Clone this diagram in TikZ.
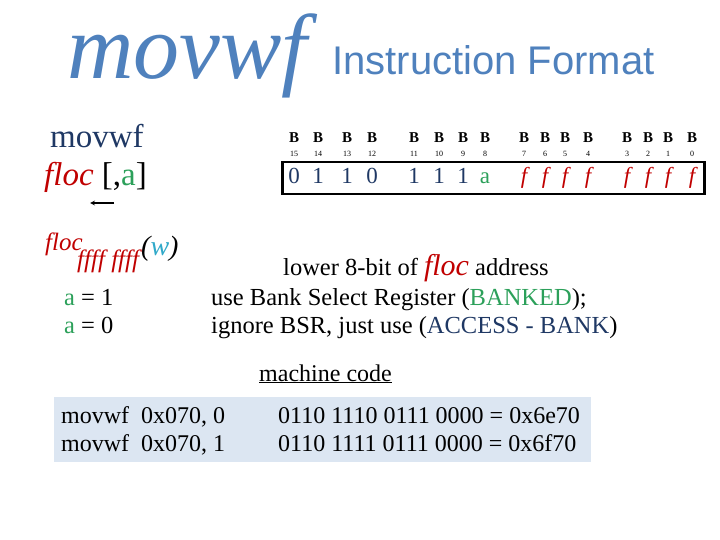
\documentclass[tikz,border=0pt]{standalone}
\usepackage{fontspec}
\setmainfont{Liberation Serif}
\newfontfamily\titlesans{Liberation Sans}
\usetikzlibrary{positioning}
\usetikzlibrary{arrows}

\definecolor{titleblue}{HTML}{4F81BD}
\definecolor{navy}{HTML}{1F3864}
\definecolor{flocred}{HTML}{C00000}
\definecolor{abitgreen}{HTML}{2CA05A}
\definecolor{wcyan}{HTML}{31A9C9}
\definecolor{codebg}{HTML}{DCE6F2}

\newcommand{\fsz}[1]{\fontsize{#1}{#1}\selectfont}

\begin{document}
\begin{tikzpicture}
        [x=1pt, y=-1pt,
         every node/.style={inner sep=0pt, anchor=base west},
         bitname/.style={anchor=base, font=\fsz{15}\bfseries},
         bitnum/.style={anchor=base, font=\fsz{8}},
         bitval/.style={anchor=base, font=\fsz{23}, text=navy},
         txt/.style={font=\fsz{24.5}}]
        \useasboundingbox (0,0) rectangle (720,540);
        % title
        \node [font=\fsz{92}\itshape, text=titleblue] (title) at (67,79) {movwf};
        \node [font=\titlesans\fsz{40}, text=titleblue, anchor=base west] (fmt) at (332,75) {Instruction Format};
        % syntax
        \node [font=\fsz{33}, text=navy] (mnem) at (50,148) {movwf};
        \node [font=\fsz{33}] (args) at (44,186) {\textcolor{flocred}{\itshape floc} [,\textcolor{abitgreen}{a}]};
        \coordinate (arrS) at (114,203);
        \coordinate (arrE) at (90,203);
        \draw [-stealth, line width=1.2pt] (arrS) -- (arrE);
        % instruction word
        \node [draw, line width=2.5pt, minimum width=422, minimum height=32, anchor=north west] (word) at (281,161) {};
        \foreach \x/\n/\v in {294/15/0, 318/14/1, 347/13/1, 372/12/0,
                              414/11/1, 439/10/1, 463/9/1, 485/8/{\textcolor{abitgreen}{a}},
                              524/7/{\textcolor{flocred}{\itshape f}}, 545/6/{\textcolor{flocred}{\itshape f}},
                              565/5/{\textcolor{flocred}{\itshape f}}, 588/4/{\textcolor{flocred}{\itshape f}},
                              627/3/{\textcolor{flocred}{\itshape f}}, 648/2/{\textcolor{flocred}{\itshape f}},
                              668/1/{\textcolor{flocred}{\itshape f}}, 692/0/{\textcolor{flocred}{\itshape f}}} {
            \node [bitname] (b\n) at (\x,143) {B};
            \node [bitnum] (n\n) at (\x,157) {\n};
            \node [bitval] (v\n) at (\x,184) {\v};
        }
        % operand
        \node [font=\fsz{25}\itshape, text=flocred] (floc) at (45,250) {floc};
        \node [font=\fsz{25}\itshape, text=flocred] (ffff) at (77,267) {ffff ffff};
        \node [font=\fsz{28}\itshape] (w) at (141,255) {(\textcolor{wcyan}{w})};
        \node [txt] (low) at (283,275) {lower 8-bit of \textcolor{flocred}{\fsz{30}\itshape floc} address};
        \node [txt] (a1) at (64,305) {\textcolor{abitgreen}{a} = 1};
        \node [txt] (bnk) at (211,305) {use Bank Select Register (\textcolor{abitgreen}{BANKED});};
        \node [txt] (a0) at (64,333) {\textcolor{abitgreen}{a} = 0};
        \node [txt] (acc) at (211,333) {ignore BSR, just use (\textcolor{navy}{ACCESS - BANK})};
        % machine code
        \node [txt, font=\fsz{24}] (mc) at (259,381) {\underline{machine code}};
        \node [fill=codebg, minimum width=537, minimum height=65, anchor=north west] (code) at (54,397) {};
        \node [txt, font=\fsz{24}] (c0) at (61,423) {movwf\ \ 0x070, 0};
        \node [txt, font=\fsz{24}] (c1) at (61,451) {movwf\ \ 0x070, 1};
        \node [txt, font=\fsz{24}] (h0) at (278,423) {0110 1110 0111 0000 = 0x6e70};
        \node [txt, font=\fsz{24}] (h1) at (278,451) {0110 1111 0111 0000 = 0x6f70};
    \end{tikzpicture}
\end{document}
